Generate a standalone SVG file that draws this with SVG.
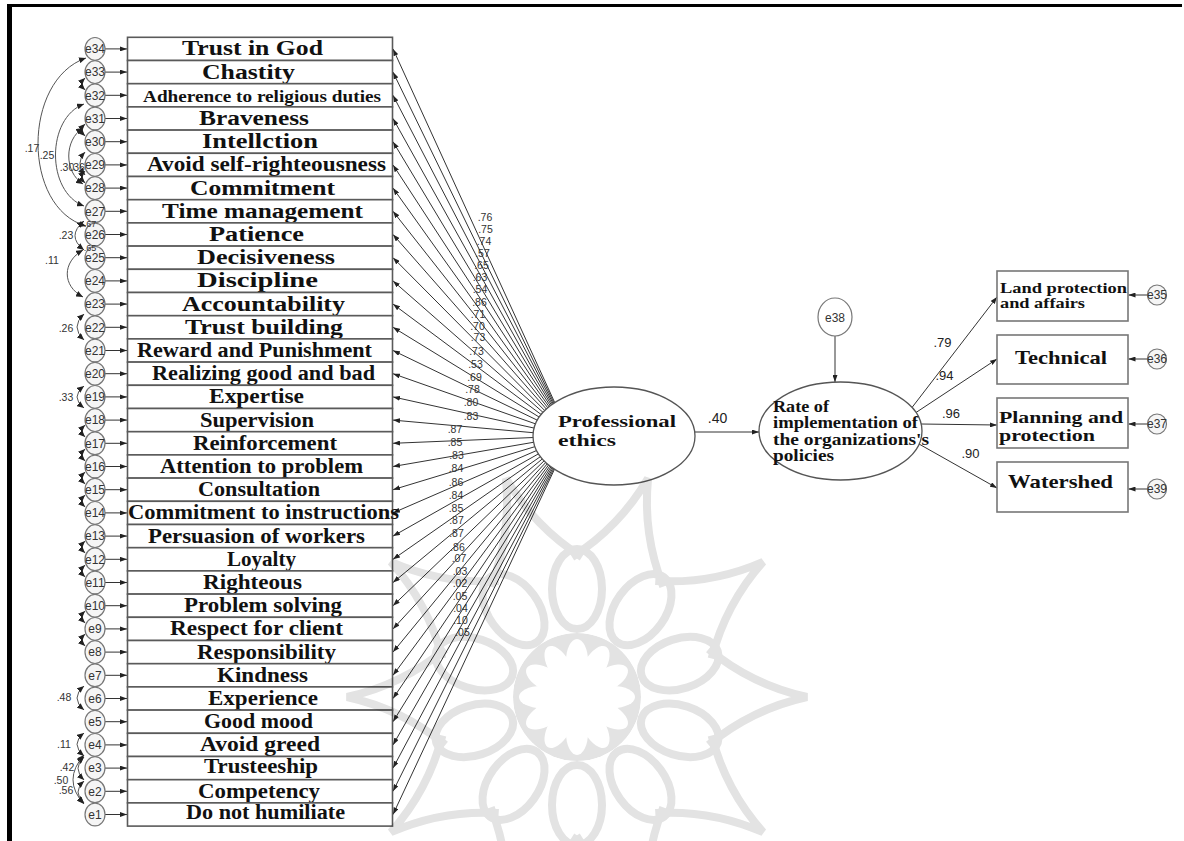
<svg xmlns="http://www.w3.org/2000/svg" width="1184" height="841" viewBox="0 0 1184 841">
<style>
.box{fill:#fff;stroke:#5a5a5a;stroke-width:1.6}
.rbox{fill:#fff;stroke:#777;stroke-width:1.6}
.lbl{font-family:"Liberation Serif","Times New Roman",serif;font-weight:bold;font-size:20px;fill:#111}
.err{fill:#f5f5f5;stroke:#777;stroke-width:1.2}
.etx{font-family:"Liberation Sans",Arial,sans-serif;font-size:12px;fill:#333;text-anchor:middle}
.num{font-family:"Liberation Sans",Arial,sans-serif;font-size:10.5px;fill:#333;text-anchor:middle}
.bnum{font-family:"Liberation Sans",Arial,sans-serif;font-size:13px;fill:#222;text-anchor:middle}
.ln{stroke:#333;stroke-width:1;fill:none}
.cv{stroke:#555;stroke-width:1;fill:none}
.lat{fill:#fff;stroke:#555;stroke-width:1.3}
</style>
<defs>
<marker id="a" viewBox="0 0 7 5" refX="7" refY="2.5" markerWidth="7" markerHeight="5" markerUnits="userSpaceOnUse" orient="auto"><path d="M0,0 L7,2.5 L0,5z" fill="#222"/></marker>
<marker id="c" viewBox="0 0 7 6" refX="7" refY="3" markerWidth="7" markerHeight="6" markerUnits="userSpaceOnUse" orient="auto-start-reverse"><path d="M0,0 L7,3 L0,6z" fill="#222"/></marker>
<mask id="fm" maskUnits="userSpaceOnUse" x="-80" y="-80" width="160" height="160">
<circle r="64" fill="#fff"/>
<g fill="#000">
<ellipse cx="0" cy="-36" rx="11" ry="22"/>
<ellipse cx="0" cy="-36" rx="11" ry="22" transform="rotate(30)"/>
<ellipse cx="0" cy="-36" rx="11" ry="22" transform="rotate(60)"/>
<ellipse cx="0" cy="-36" rx="11" ry="22" transform="rotate(90)"/>
<ellipse cx="0" cy="-36" rx="11" ry="22" transform="rotate(120)"/>
<ellipse cx="0" cy="-36" rx="11" ry="22" transform="rotate(150)"/>
<ellipse cx="0" cy="-36" rx="11" ry="22" transform="rotate(180)"/>
<ellipse cx="0" cy="-36" rx="11" ry="22" transform="rotate(210)"/>
<ellipse cx="0" cy="-36" rx="11" ry="22" transform="rotate(240)"/>
<ellipse cx="0" cy="-36" rx="11" ry="22" transform="rotate(270)"/>
<ellipse cx="0" cy="-36" rx="11" ry="22" transform="rotate(300)"/>
<ellipse cx="0" cy="-36" rx="11" ry="22" transform="rotate(330)"/>
<circle r="18"/>
</g>
</mask>
</defs>
<rect width="1184" height="841" fill="#fff"/>
<g id="frame">
<rect x="7" y="4" width="1175" height="3" fill="#000"/>
<rect x="7" y="4" width="5" height="837" fill="#000"/>
</g>

<g id="connectors">
<g class="ln" marker-end="url(#a)">
<path d="M570,436 L393,48.9"/><path d="M570,436 L393,72.1"/><path d="M570,436 L393,95.3"/><path d="M570,436 L393,118.5"/>
<path d="M570,436 L393,141.7"/><path d="M570,436 L393,164.9"/><path d="M570,436 L393,188.1"/><path d="M570,436 L393,211.3"/>
<path d="M570,436 L393,234.5"/><path d="M570,436 L393,257.7"/><path d="M570,436 L393,280.9"/><path d="M570,436 L393,304.1"/>
<path d="M570,436 L393,327.3"/><path d="M570,436 L393,350.5"/><path d="M570,436 L393,373.7"/><path d="M570,436 L393,396.9"/>
<path d="M570,436 L393,420.1"/><path d="M570,436 L393,443.3"/><path d="M570,436 L393,466.5"/><path d="M570,436 L393,489.7"/>
<path d="M570,436 L393,512.9"/><path d="M570,436 L393,536.1"/><path d="M570,436 L393,559.3"/><path d="M570,436 L393,582.5"/>
<path d="M570,436 L393,605.7"/><path d="M570,436 L393,628.9"/><path d="M570,436 L393,652.1"/><path d="M570,436 L393,675.3"/>
<path d="M570,436 L393,698.5"/><path d="M570,436 L393,721.7"/><path d="M570,436 L393,744.9"/><path d="M570,436 L393,768.1"/>
<path d="M570,436 L393,791.3"/><path d="M570,436 L393,814.5"/>
</g>
<g class="ln" marker-end="url(#a)">
<path d="M105,48.9 L127,48.9"/><path d="M105,72.1 L127,72.1"/><path d="M105,95.3 L127,95.3"/><path d="M105,118.5 L127,118.5"/>
<path d="M105,141.7 L127,141.7"/><path d="M105,164.9 L127,164.9"/><path d="M105,188.1 L127,188.1"/><path d="M105,211.3 L127,211.3"/>
<path d="M105,234.5 L127,234.5"/><path d="M105,257.7 L127,257.7"/><path d="M105,280.9 L127,280.9"/><path d="M105,304.1 L127,304.1"/>
<path d="M105,327.3 L127,327.3"/><path d="M105,350.5 L127,350.5"/><path d="M105,373.7 L127,373.7"/><path d="M105,396.9 L127,396.9"/>
<path d="M105,420.1 L127,420.1"/><path d="M105,443.3 L127,443.3"/><path d="M105,466.5 L127,466.5"/><path d="M105,489.7 L127,489.7"/>
<path d="M105,512.9 L127,512.9"/><path d="M105,536.1 L127,536.1"/><path d="M105,559.3 L127,559.3"/><path d="M105,582.5 L127,582.5"/>
<path d="M105,605.7 L127,605.7"/><path d="M105,628.9 L127,628.9"/><path d="M105,652.1 L127,652.1"/><path d="M105,675.3 L127,675.3"/>
<path d="M105,698.5 L127,698.5"/><path d="M105,721.7 L127,721.7"/><path d="M105,744.9 L127,744.9"/><path d="M105,768.1 L127,768.1"/>
<path d="M105,791.3 L127,791.3"/><path d="M105,814.5 L127,814.5"/>
</g>
<g class="cv" marker-start="url(#c)" marker-end="url(#c)">
<path d="M86,58 C22,80 22,208 86,226"/>
<path d="M84,104 C46,118 46,192 84,206"/>
<path d="M83,128 C64,140 64,172 83,184"/>
<path d="M85,152 Q75,163 85,175"/>
<path d="M84,221 Q66,236 84,250"/>
<path d="M83,250 C62,262 62,286 83,297"/>
<path d="M84,314 Q70,327 84,340"/>
<path d="M84,386 Q70,397 84,408"/>
<path d="M84,686 Q70,698 84,710"/>
<path d="M84,733 Q70,744 84,756"/>
<path d="M84,757 Q72,768 84,780"/>
<path d="M84,755 Q62,780 84,804"/>
<path d="M84,781 Q72,792 84,803"/>
<path d="M85,78 Q79,84 85,90"/>
<path d="M85,124 Q79,130 85,136"/>
<path d="M85,171 Q79,177 85,183"/>
<path d="M85,425 Q79,431 85,437"/>
<path d="M85,449 Q79,455 85,461"/>
<path d="M85,472 Q79,478 85,484"/>
<path d="M85,495 Q79,501 85,507"/>
<path d="M85,541 Q79,547 85,553"/>
<path d="M85,565 Q79,571 85,577"/>
<path d="M85,611 Q79,617 85,623"/>
<path d="M85,634 Q79,640 85,646"/>
</g>
<g class="ln" marker-end="url(#a)">
<path d="M695,432 L759,432"/>
<path d="M835,336 L835,382"/>
<path d="M912,407.5 L997,297"/>
<path d="M916,412.5 L997,359"/>
<path d="M921,424 L997,425"/>
<path d="M919,444 L997,488"/>
<path d="M1147.5,295 L1128.5,295"/>
<path d="M1147.5,359 L1128.5,359"/>
<path d="M1147.5,424 L1128.5,424"/>
<path d="M1147.5,489 L1128.5,489"/>
</g>
</g>

<g id="nodes">
<g id="n34"><rect class="box" x="127.5" y="37.3" width="265" height="23.2"/><text class="lbl" x="182" y="55.4" textLength="141" lengthAdjust="spacingAndGlyphs">Trust in God</text></g>
<g id="n33"><rect class="box" x="127.5" y="60.5" width="265" height="23.2"/><text class="lbl" x="202" y="78.6" textLength="93" lengthAdjust="spacingAndGlyphs">Chastity</text></g>
<g id="n32"><rect class="box" x="127.5" y="83.7" width="265" height="23.2"/><text class="lbl" x="143" y="102" textLength="238" lengthAdjust="spacingAndGlyphs" style="font-size:16px">Adherence to religious duties</text></g>
<g id="n31"><rect class="box" x="127.5" y="106.9" width="265" height="23.2"/><text class="lbl" x="199" y="125" textLength="110" lengthAdjust="spacingAndGlyphs">Braveness</text></g>
<g id="n30"><rect class="box" x="127.5" y="130.1" width="265" height="23.2"/><text class="lbl" x="202" y="148.2" textLength="116" lengthAdjust="spacingAndGlyphs">Intellction</text></g>
<g id="n29"><rect class="box" x="127.5" y="153.3" width="265" height="23.2"/><text class="lbl" x="147" y="171.4" textLength="239" lengthAdjust="spacingAndGlyphs">Avoid self-righteousness</text></g>
<g id="n28"><rect class="box" x="127.5" y="176.5" width="265" height="23.2"/><text class="lbl" x="190" y="194.6" textLength="145" lengthAdjust="spacingAndGlyphs">Commitment</text></g>
<g id="n27"><rect class="box" x="127.5" y="199.7" width="265" height="23.2"/><text class="lbl" x="162" y="217.8" textLength="201" lengthAdjust="spacingAndGlyphs">Time management</text></g>
<g id="n26"><rect class="box" x="127.5" y="222.9" width="265" height="23.2"/><text class="lbl" x="209" y="241" textLength="95" lengthAdjust="spacingAndGlyphs">Patience</text></g>
<g id="n25"><rect class="box" x="127.5" y="246.1" width="265" height="23.2"/><text class="lbl" x="197" y="264.2" textLength="138" lengthAdjust="spacingAndGlyphs">Decisiveness</text></g>
<g id="n24"><rect class="box" x="127.5" y="269.3" width="265" height="23.2"/><text class="lbl" x="197" y="287.4" textLength="121" lengthAdjust="spacingAndGlyphs">Discipline</text></g>
<g id="n23"><rect class="box" x="127.5" y="292.5" width="265" height="23.2"/><text class="lbl" x="182" y="310.6" textLength="163" lengthAdjust="spacingAndGlyphs">Accountability</text></g>
<g id="n22"><rect class="box" x="127.5" y="315.7" width="265" height="23.2"/><text class="lbl" x="185" y="333.8" textLength="158" lengthAdjust="spacingAndGlyphs">Trust building</text></g>
<g id="n21"><rect class="box" x="127.5" y="338.9" width="265" height="23.2"/><text class="lbl" x="137" y="357" textLength="235" lengthAdjust="spacingAndGlyphs">Reward and Punishment</text></g>
<g id="n20"><rect class="box" x="127.5" y="362.1" width="265" height="23.2"/><text class="lbl" x="152" y="380.2" textLength="223" lengthAdjust="spacingAndGlyphs">Realizing good and bad</text></g>
<g id="n19"><rect class="box" x="127.5" y="385.3" width="265" height="23.2"/><text class="lbl" x="209" y="403.4" textLength="95" lengthAdjust="spacingAndGlyphs">Expertise</text></g>
<g id="n18"><rect class="box" x="127.5" y="408.5" width="265" height="23.2"/><text class="lbl" x="200" y="426.6" textLength="114" lengthAdjust="spacingAndGlyphs">Supervision</text></g>
<g id="n17"><rect class="box" x="127.5" y="431.7" width="265" height="23.2"/><text class="lbl" x="193" y="449.8" textLength="144" lengthAdjust="spacingAndGlyphs">Reinforcement</text></g>
<g id="n16"><rect class="box" x="127.5" y="454.9" width="265" height="23.2"/><text class="lbl" x="160" y="473" textLength="203" lengthAdjust="spacingAndGlyphs">Attention to problem</text></g>
<g id="n15"><rect class="box" x="127.5" y="478.1" width="265" height="23.2"/><text class="lbl" x="198" y="496.2" textLength="122" lengthAdjust="spacingAndGlyphs">Consultation</text></g>
<g id="n14"><rect class="box" x="127.5" y="501.3" width="265" height="23.2"/><text class="lbl" x="128" y="519.4" textLength="271" lengthAdjust="spacingAndGlyphs">Commitment to instructions</text></g>
<g id="n13"><rect class="box" x="127.5" y="524.5" width="265" height="23.2"/><text class="lbl" x="148" y="542.6" textLength="217" lengthAdjust="spacingAndGlyphs">Persuasion of workers</text></g>
<g id="n12"><rect class="box" x="127.5" y="547.7" width="265" height="23.2"/><text class="lbl" x="227" y="565.8" textLength="69" lengthAdjust="spacingAndGlyphs">Loyalty</text></g>
<g id="n11"><rect class="box" x="127.5" y="570.9" width="265" height="23.2"/><text class="lbl" x="203" y="589" textLength="99" lengthAdjust="spacingAndGlyphs">Righteous</text></g>
<g id="n10"><rect class="box" x="127.5" y="594.1" width="265" height="23.2"/><text class="lbl" x="184" y="612.2" textLength="158" lengthAdjust="spacingAndGlyphs">Problem solving</text></g>
<g id="n9"><rect class="box" x="127.5" y="617.3" width="265" height="23.2"/><text class="lbl" x="170" y="635.4" textLength="173" lengthAdjust="spacingAndGlyphs">Respect for client</text></g>
<g id="n8"><rect class="box" x="127.5" y="640.5" width="265" height="23.2"/><text class="lbl" x="197" y="658.6" textLength="139" lengthAdjust="spacingAndGlyphs">Responsibility</text></g>
<g id="n7"><rect class="box" x="127.5" y="663.7" width="265" height="23.2"/><text class="lbl" x="217" y="681.8" textLength="91" lengthAdjust="spacingAndGlyphs">Kindness</text></g>
<g id="n6"><rect class="box" x="127.5" y="686.9" width="265" height="23.2"/><text class="lbl" x="208" y="705" textLength="110" lengthAdjust="spacingAndGlyphs">Experience</text></g>
<g id="n5"><rect class="box" x="127.5" y="710.1" width="265" height="23.2"/><text class="lbl" x="204" y="728.2" textLength="109" lengthAdjust="spacingAndGlyphs">Good mood</text></g>
<g id="n4"><rect class="box" x="127.5" y="733.3" width="265" height="23.2"/><text class="lbl" x="200" y="750.6" textLength="120" lengthAdjust="spacingAndGlyphs">Avoid greed</text></g>
<g id="n3"><rect class="box" x="127.5" y="756.5" width="265" height="23.2"/><text class="lbl" x="204" y="773.3" textLength="114" lengthAdjust="spacingAndGlyphs">Trusteeship</text></g>
<g id="n2"><rect class="box" x="127.5" y="779.7" width="265" height="23.2"/><text class="lbl" x="198" y="797.6" textLength="122" lengthAdjust="spacingAndGlyphs">Competency</text></g>
<g id="n1"><rect class="box" x="127.5" y="802.9" width="265" height="23.2"/><text class="lbl" x="186" y="818.8" textLength="159" lengthAdjust="spacingAndGlyphs">Do not humiliate</text></g>

<g id="e34"><ellipse class="err" cx="95" cy="48.9" rx="10" ry="11.4"/><text class="etx" x="95" y="53.1">e34</text></g>
<g id="e33"><ellipse class="err" cx="95" cy="72.1" rx="10" ry="11.4"/><text class="etx" x="95" y="76.3">e33</text></g>
<g id="e32"><ellipse class="err" cx="95" cy="95.3" rx="10" ry="11.4"/><text class="etx" x="95" y="99.5">e32</text></g>
<g id="e31"><ellipse class="err" cx="95" cy="118.5" rx="10" ry="11.4"/><text class="etx" x="95" y="122.7">e31</text></g>
<g id="e30"><ellipse class="err" cx="95" cy="141.7" rx="10" ry="11.4"/><text class="etx" x="95" y="145.9">e30</text></g>
<g id="e29"><ellipse class="err" cx="95" cy="164.9" rx="10" ry="11.4"/><text class="etx" x="95" y="169.1">e29</text></g>
<g id="e28"><ellipse class="err" cx="95" cy="188.1" rx="10" ry="11.4"/><text class="etx" x="95" y="192.3">e28</text></g>
<g id="e27"><ellipse class="err" cx="95" cy="211.3" rx="10" ry="11.4"/><text class="etx" x="95" y="215.5">e27</text></g>
<g id="e26"><ellipse class="err" cx="95" cy="234.5" rx="10" ry="11.4"/><text class="etx" x="95" y="238.7">e26</text></g>
<g id="e25"><ellipse class="err" cx="95" cy="257.7" rx="10" ry="11.4"/><text class="etx" x="95" y="261.9">e25</text></g>
<g id="e24"><ellipse class="err" cx="95" cy="280.9" rx="10" ry="11.4"/><text class="etx" x="95" y="285.1">e24</text></g>
<g id="e23"><ellipse class="err" cx="95" cy="304.1" rx="10" ry="11.4"/><text class="etx" x="95" y="308.3">e23</text></g>
<g id="e22"><ellipse class="err" cx="95" cy="327.3" rx="10" ry="11.4"/><text class="etx" x="95" y="331.5">e22</text></g>
<g id="e21"><ellipse class="err" cx="95" cy="350.5" rx="10" ry="11.4"/><text class="etx" x="95" y="354.7">e21</text></g>
<g id="e20"><ellipse class="err" cx="95" cy="373.7" rx="10" ry="11.4"/><text class="etx" x="95" y="377.9">e20</text></g>
<g id="e19"><ellipse class="err" cx="95" cy="396.9" rx="10" ry="11.4"/><text class="etx" x="95" y="401.1">e19</text></g>
<g id="e18"><ellipse class="err" cx="95" cy="420.1" rx="10" ry="11.4"/><text class="etx" x="95" y="424.3">e18</text></g>
<g id="e17"><ellipse class="err" cx="95" cy="443.3" rx="10" ry="11.4"/><text class="etx" x="95" y="447.5">e17</text></g>
<g id="e16"><ellipse class="err" cx="95" cy="466.5" rx="10" ry="11.4"/><text class="etx" x="95" y="470.7">e16</text></g>
<g id="e15"><ellipse class="err" cx="95" cy="489.7" rx="10" ry="11.4"/><text class="etx" x="95" y="493.9">e15</text></g>
<g id="e14"><ellipse class="err" cx="95" cy="512.9" rx="10" ry="11.4"/><text class="etx" x="95" y="517.1">e14</text></g>
<g id="e13"><ellipse class="err" cx="95" cy="536.1" rx="10" ry="11.4"/><text class="etx" x="95" y="540.3">e13</text></g>
<g id="e12"><ellipse class="err" cx="95" cy="559.3" rx="10" ry="11.4"/><text class="etx" x="95" y="563.5">e12</text></g>
<g id="e11"><ellipse class="err" cx="95" cy="582.5" rx="10" ry="11.4"/><text class="etx" x="95" y="586.7">e11</text></g>
<g id="e10"><ellipse class="err" cx="95" cy="605.7" rx="10" ry="11.4"/><text class="etx" x="95" y="609.9">e10</text></g>
<g id="e9"><ellipse class="err" cx="95" cy="628.9" rx="10" ry="11.4"/><text class="etx" x="95" y="633.1">e9</text></g>
<g id="e8"><ellipse class="err" cx="95" cy="652.1" rx="10" ry="11.4"/><text class="etx" x="95" y="656.3">e8</text></g>
<g id="e7"><ellipse class="err" cx="95" cy="675.3" rx="10" ry="11.4"/><text class="etx" x="95" y="679.5">e7</text></g>
<g id="e6"><ellipse class="err" cx="95" cy="698.5" rx="10" ry="11.4"/><text class="etx" x="95" y="702.7">e6</text></g>
<g id="e5"><ellipse class="err" cx="95" cy="721.7" rx="10" ry="11.4"/><text class="etx" x="95" y="725.9">e5</text></g>
<g id="e4"><ellipse class="err" cx="95" cy="744.9" rx="10" ry="11.4"/><text class="etx" x="95" y="749.1">e4</text></g>
<g id="e3"><ellipse class="err" cx="95" cy="768.1" rx="10" ry="11.4"/><text class="etx" x="95" y="772.3">e3</text></g>
<g id="e2"><ellipse class="err" cx="95" cy="791.3" rx="10" ry="11.4"/><text class="etx" x="95" y="795.5">e2</text></g>
<g id="e1"><ellipse class="err" cx="95" cy="814.5" rx="10" ry="11.4"/><text class="etx" x="95" y="818.7">e1</text></g>

<g id="professional-ethics"><ellipse class="lat" cx="614" cy="436" rx="81" ry="49"/>
<text class="lbl" x="558" y="427" textLength="118" lengthAdjust="spacingAndGlyphs" style="font-size:17px">Professional</text>
<text class="lbl" x="558" y="446" textLength="58" lengthAdjust="spacingAndGlyphs" style="font-size:17px">ethics</text></g>
<g id="rate"><ellipse class="lat" cx="840.5" cy="431" rx="81.5" ry="49"/>
<text class="lbl" x="773" y="411.5" textLength="56" lengthAdjust="spacingAndGlyphs" style="font-size:16px">Rate of</text>
<text class="lbl" x="773" y="428.3" textLength="145" lengthAdjust="spacingAndGlyphs" style="font-size:16px">implementation of</text>
<text class="lbl" x="773" y="445" textLength="156" lengthAdjust="spacingAndGlyphs" style="font-size:16px">the organizations's</text>
<text class="lbl" x="773" y="460.5" textLength="61" lengthAdjust="spacingAndGlyphs" style="font-size:16px">policies</text></g>
<g id="e38"><ellipse class="err" cx="835" cy="317" rx="17" ry="19" style="fill:#fff"/><text class="etx" x="835" y="321.5">e38</text></g>

<g id="land"><rect class="rbox" x="997" y="271" width="131" height="50"/>
<text class="lbl" x="1000" y="293" textLength="127" lengthAdjust="spacingAndGlyphs" style="font-size:15px">Land protection</text>
<text class="lbl" x="1000" y="308" textLength="85" lengthAdjust="spacingAndGlyphs" style="font-size:15px">and affairs</text></g>
<g id="technical"><rect class="rbox" x="997" y="335" width="131" height="49"/>
<text class="lbl" x="1015" y="364" textLength="92" lengthAdjust="spacingAndGlyphs" style="font-size:19px">Technical</text></g>
<g id="planning"><rect class="rbox" x="997" y="398" width="131" height="50"/>
<text class="lbl" x="999" y="422.5" textLength="124" lengthAdjust="spacingAndGlyphs" style="font-size:16px">Planning and</text>
<text class="lbl" x="999" y="440.5" textLength="96" lengthAdjust="spacingAndGlyphs" style="font-size:16px">protection</text></g>
<g id="watershed"><rect class="rbox" x="997" y="462" width="131" height="50"/>
<text class="lbl" x="1008" y="488" textLength="105" lengthAdjust="spacingAndGlyphs" style="font-size:19px">Watershed</text></g>
<g id="e35"><ellipse class="err" cx="1157" cy="295" rx="9.5" ry="10"/><text class="etx" x="1157" y="299">e35</text></g>
<g id="e36"><ellipse class="err" cx="1157" cy="359" rx="9.5" ry="10"/><text class="etx" x="1157" y="363">e36</text></g>
<g id="e37"><ellipse class="err" cx="1157" cy="424" rx="9.5" ry="10"/><text class="etx" x="1157" y="428">e37</text></g>
<g id="e39"><ellipse class="err" cx="1157" cy="489" rx="9.5" ry="10"/><text class="etx" x="1157" y="493">e39</text></g>
</g>

<g id="labels">
<g class="num">
<text x="485" y="221">.76</text><text x="485.5" y="233">.75</text><text x="484" y="245">.74</text><text x="482.5" y="257">.57</text>
<text x="481.5" y="269">.65</text><text x="480" y="281">.63</text><text x="480" y="293">.54</text><text x="479.5" y="306">.86</text>
<text x="478" y="318">.71</text><text x="477.5" y="330">.70</text><text x="478" y="341">.73</text><text x="476.5" y="355">.73</text>
<text x="475.5" y="368">.53</text><text x="474.5" y="381">.69</text><text x="472.5" y="393">.78</text><text x="471" y="406">.80</text>
<text x="471" y="420">.83</text><text x="455" y="433">.87</text><text x="455" y="446">.85</text>
<text x="456.5" y="459">.83</text><text x="456" y="472">.84</text><text x="456" y="486">.86</text><text x="456" y="499">.84</text>
<text x="456" y="512">.85</text><text x="456.5" y="524">.87</text><text x="456.5" y="537">.87</text><text x="457.5" y="551">.86</text>
<text x="459" y="562">.07</text><text x="460" y="575">.03</text><text x="460" y="587">.02</text><text x="460" y="600">.05</text>
<text x="460.5" y="612">.04</text><text x="460.5" y="624">.10</text><text x="462.5" y="636">.05</text>
<text x="32" y="152">.17</text><text x="47" y="159">.25</text><text x="67" y="171">.30</text><text x="79" y="171">36</text>
<text x="66" y="239">.23</text><text x="52" y="264">.11</text><text x="90" y="227" style="font-size:9px">.67</text><text x="90" y="251" style="font-size:9px">.65</text>
<text x="66" y="332">.26</text><text x="66" y="401">.33</text><text x="64" y="701">.48</text><text x="64" y="748">.11</text>
<text x="67" y="771">.42</text><text x="61" y="784">.50</text><text x="66" y="794">.56</text>
</g>
<g class="bnum">
<text x="717.5" y="423" style="font-size:14px">.40</text>
<text x="942.5" y="347">.79</text>
<text x="944.5" y="380">.94</text>
<text x="951" y="418">.96</text>
<text x="970.5" y="458">.90</text>
</g>
</g>

<g id="watermark" opacity="0.11" transform="translate(577,697)">
<circle r="64" fill="#000" mask="url(#fm)"/>
<g fill="none" stroke="#000" stroke-width="8">
<ellipse cx="108" cy="0" rx="40" ry="25" transform="rotate(18)"/>
<ellipse cx="108" cy="0" rx="40" ry="25" transform="rotate(54)"/>
<ellipse cx="108" cy="0" rx="40" ry="25" transform="rotate(90)"/>
<ellipse cx="108" cy="0" rx="40" ry="25" transform="rotate(126)"/>
<ellipse cx="108" cy="0" rx="40" ry="25" transform="rotate(162)"/>
<ellipse cx="108" cy="0" rx="40" ry="25" transform="rotate(198)"/>
<ellipse cx="108" cy="0" rx="40" ry="25" transform="rotate(234)"/>
<ellipse cx="108" cy="0" rx="40" ry="25" transform="rotate(270)"/>
<ellipse cx="108" cy="0" rx="40" ry="25" transform="rotate(306)"/>
<ellipse cx="108" cy="0" rx="40" ry="25" transform="rotate(342)"/>
<path d="M131.6,-47.9 Q175,-12 230,0 Q175,12 131.6,47.9"/>
<path d="M131.6,-47.9 Q175,-12 230,0 Q175,12 131.6,47.9" transform="rotate(36)"/>
<path d="M131.6,-47.9 Q175,-12 230,0 Q175,12 131.6,47.9" transform="rotate(72)"/>
<path d="M131.6,-47.9 Q175,-12 230,0 Q175,12 131.6,47.9" transform="rotate(108)"/>
<path d="M131.6,-47.9 Q175,-12 230,0 Q175,12 131.6,47.9" transform="rotate(144)"/>
<path d="M131.6,-47.9 Q175,-12 230,0 Q175,12 131.6,47.9" transform="rotate(180)"/>
<path d="M131.6,-47.9 Q175,-12 230,0 Q175,12 131.6,47.9" transform="rotate(216)"/>
<path d="M131.6,-47.9 Q175,-12 230,0 Q175,12 131.6,47.9" transform="rotate(252)"/>
<path d="M131.6,-47.9 Q175,-12 230,0 Q175,12 131.6,47.9" transform="rotate(288)"/>
<path d="M131.6,-47.9 Q175,-12 230,0 Q175,12 131.6,47.9" transform="rotate(324)"/>
</g>
</g>
</svg>
